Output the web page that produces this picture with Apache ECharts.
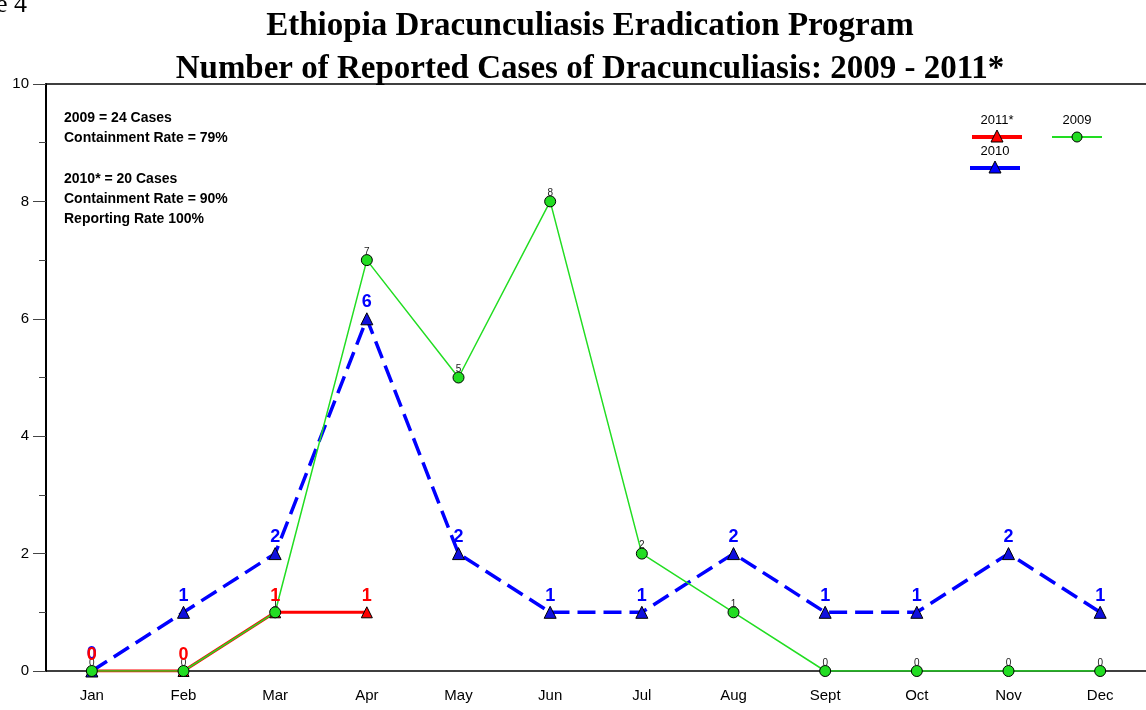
<!DOCTYPE html>
<html>
<head>
<meta charset="utf-8">
<script src="https://cdn.jsdelivr.net/npm/echarts@6/dist/echarts.min.js"></script>
<style>
  html, body { margin: 0; padding: 0; background: #fff; }
  #chart { width: 1146px; height: 710px; }
</style>
</head>
<body>
<div id="chart"></div>
<script>
var months = ['Jan', 'Feb', 'Mar', 'Apr', 'May', 'Jun', 'Jul', 'Aug', 'Sept', 'Oct', 'Nov', 'Dec'];
var cases2009 = [0, 0, 1, 7, 5, 8, 2, 1, 0, 0, 0, 0];
var cases2010 = [0, 1, 2, 6, 2, 1, 1, 2, 1, 1, 2, 1];
var cases2011 = [0, 0, 1, 1];

var chart = echarts.init(document.getElementById('chart'));

var noteStyle = { fontFamily: 'Liberation Sans', fontWeight: 'bold', fontSize: 14, fill: '#000' };
function note(y, txt) {
  return { type: 'text', left: 64, top: y, style: Object.assign({ text: txt }, noteStyle) };
}
// legend drawn by hand: name above a short line with the marker in its middle
function legendItem(cx, y, name, color, symbol) {
  var items = [
    { type: 'text', x: cx, y: y, style: { text: name, fontFamily: 'Liberation Sans', fontSize: 13, fill: '#000', align: 'center' } },
    { type: 'line', shape: { x1: cx - 25, y1: y + 23, x2: cx + 25, y2: y + 23 }, style: { stroke: color, lineWidth: symbol == 'circle' ? 2 : 4 } }
  ];
  if (symbol == 'circle') {
    items.push({ type: 'circle', shape: { cx: cx, cy: y + 23, r: 5 }, style: { fill: color, stroke: '#000', lineWidth: 1 } });
  } else {
    items.push({ type: 'polygon', shape: { points: [[cx, y + 16], [cx - 6, y + 28], [cx + 6, y + 28]] }, style: { fill: color, stroke: '#000', lineWidth: 1 } });
  }
  return items;
}

var option = {
  backgroundColor: '#fff',
  animation: false,
  title: {
    text: 'Ethiopia Dracunculiasis Eradication Program\nNumber of Reported Cases of Dracunculiasis: 2009 - 2011*',
    left: 585,
    textAlign: 'center',
    top: 0,
    textStyle: { fontFamily: 'Liberation Serif', fontWeight: 'bold', fontSize: 33, lineHeight: 43, color: '#000' }
  },
  grid: { left: 46, top: 84, width: 1106, bottom: 39 },
  graphic: [
    { type: 'text', left: -4, top: -8, style: { text: 'e 4', fontFamily: 'Liberation Serif', fontSize: 26, fill: '#000' } },
    note(111, '2009 = 24 Cases'),
    note(131, 'Containment Rate = 79%'),
    note(172, '2010* = 20 Cases'),
    note(192, 'Containment Rate = 90%'),
    note(212, 'Reporting Rate 100%')
  ].concat(legendItem(997, 114, '2011*', '#ff0000', 'triangle'))
   .concat(legendItem(1077, 114, '2009', '#22dd22', 'circle'))
   .concat(legendItem(995, 145, '2010', '#0000ff', 'triangle')),
  xAxis: [{
    type: 'category',
    data: months,
    boundaryGap: true,
    axisLine: { lineStyle: { color: '#000', width: 1.5 } },
    axisTick: { alignWithLabel: true, length: 12, lineStyle: { color: '#444' } },
    axisLabel: { color: '#000', fontFamily: 'Liberation Sans', fontSize: 15, margin: 17 }
  }, {
    type: 'category',
    position: 'top',
    data: months,
    axisLine: { show: true, lineStyle: { color: '#000', width: 1.5 } },
    axisTick: { show: false },
    axisLabel: { show: false }
  }],
  yAxis: {
    type: 'value',
    min: 0,
    max: 10,
    interval: 2,
    axisLine: { show: true, lineStyle: { color: '#000', width: 2 } },
    axisTick: { show: true, length: 13, lineStyle: { color: '#444' } },
    minorTick: { show: true, splitNumber: 2, length: 7, lineStyle: { color: '#444' } },
    splitLine: { show: false },
    axisLabel: { color: '#000', fontFamily: 'Liberation Sans', fontSize: 15, margin: 17 }
  },
  series: [
    {
      name: '2011*',
      type: 'line',
      data: cases2011,
      z: 2,
      symbol: 'triangle',
      symbolSize: 11,
      lineStyle: { color: '#ff0000', width: 3 },
      itemStyle: { color: '#ff0000', borderColor: '#000', borderWidth: 1 }
    },
    {
      name: '2010',
      type: 'line',
      data: cases2010,
      z: 3,
      symbol: 'triangle',
      symbolSize: 12,
      lineStyle: { color: '#0000ff', width: 3.5, type: [18, 8] },
      itemStyle: { color: '#1010dd', borderColor: '#000', borderWidth: 1 },
      label: { show: true, position: 'top', distance: 1, color: '#0000ff', fontFamily: 'Liberation Sans', fontWeight: 'bold', fontSize: 18 }
    },
    {
      name: '2009',
      type: 'line',
      data: cases2009,
      z: 4,
      symbol: 'circle',
      symbolSize: 11,
      lineStyle: { color: '#22dd22', width: 1.5 },
      itemStyle: { color: '#22dd22', borderColor: '#000', borderWidth: 1 },
      label: { show: true, position: 'top', distance: -3, color: '#222', fontFamily: 'Liberation Sans', fontSize: 10 }
    },
    {
      // red value labels sit above everything else
      name: '2011* labels',
      type: 'line',
      data: cases2011,
      z: 10,
      symbol: 'circle',
      symbolSize: 12,
      itemStyle: { color: 'rgba(0,0,0,0)', borderWidth: 0 },
      lineStyle: { width: 0, color: 'rgba(0,0,0,0)' },
      label: { show: true, position: 'top', distance: 1, color: '#ff0000', fontFamily: 'Liberation Sans', fontWeight: 'bold', fontSize: 18 }
    }
  ]
};
chart.setOption(option);
</script>
</body>
</html>
